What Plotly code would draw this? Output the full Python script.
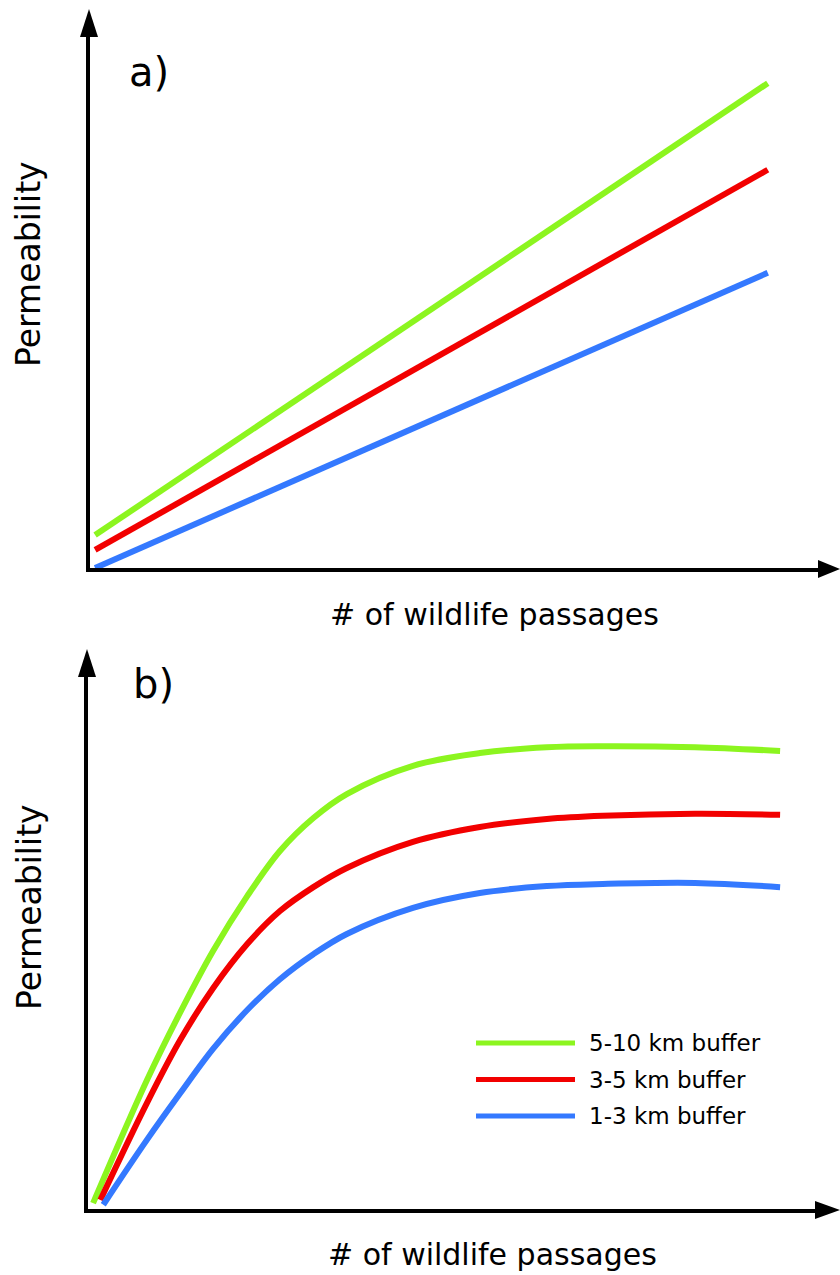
import plotly.graph_objects as go

# ---- data -------------------------------------------------------------
series_names = ["5-10 km buffer", "3-5 km buffer", "1-3 km buffer"]
series_colors = ["#8CF51F", "#F20000", "#3479FF"]

# panel a) linear response (x = # of passages, y = permeability, arbitrary 0-100 units)
lin_x = [0.7, 93.1]
lin_green = [6.2, 91.3]
lin_red = [3.4, 75.0]
lin_blue = [0.0, 55.6]

# panel b) saturating response
sat_x_green = [0.7, 8.1, 12.7, 17.2, 21.9, 26.4, 31.0, 35.6, 44.7, 53.9, 63.1, 70.8, 83.5, 95.2]
sat_green = [1.1, 24.2, 37.0, 48.5, 58.8, 67.3, 73.5, 78.0, 83.3, 85.7, 86.8, 87.0, 86.8, 86.1]
sat_x_red = [1.7, 8.1, 12.7, 17.2, 21.9, 26.4, 31.0, 35.6, 44.7, 53.9, 63.1, 70.8, 83.5, 95.2]
sat_red = [1.7, 19.9, 31.8, 41.5, 49.8, 56.0, 60.5, 64.1, 69.0, 71.8, 73.3, 73.9, 74.3, 74.1]
sat_x_blue = [2.1, 8.1, 12.7, 17.2, 21.9, 26.4, 31.0, 35.6, 44.7, 53.9, 63.1, 70.8, 83.5, 95.2]
sat_blue = [0.8, 13.0, 21.8, 30.1, 37.4, 43.2, 47.9, 51.7, 56.6, 59.4, 60.7, 61.1, 61.3, 60.5]

x_title = "# of wildlife passages"
y_title = "Permeability"
panel_labels = ["a)", "b)"]

# ---- layout helpers ---------------------------------------------------
W, H = 840, 1275
FONT = "DejaVu Sans"


def fx(px):
    return px / W


def fy(py):
    return 1 - py / H


fig = go.Figure()

line_w = 6
lin_series = [lin_green, lin_red, lin_blue]
for name, color, ys in zip(series_names, series_colors, lin_series):
    fig.add_trace(go.Scatter(x=lin_x, y=ys, mode="lines", name=name,
                             line=dict(color=color, width=line_w),
                             xaxis="x", yaxis="y", showlegend=False))

sat_series = [(sat_x_green, sat_green), (sat_x_red, sat_red), (sat_x_blue, sat_blue)]
for name, color, (xs, ys) in zip(series_names, series_colors, sat_series):
    fig.add_trace(go.Scatter(x=xs, y=ys, mode="lines", name=name,
                             line=dict(color=color, width=line_w, shape="spline", smoothing=1.0),
                             xaxis="x2", yaxis="y2", showlegend=False))

axis_common = dict(range=[0, 100], showline=True, linecolor="black", linewidth=4,
                   showgrid=False, zeroline=False, showticklabels=False, ticks="",
                   fixedrange=True)

# axis frames (pixel geometry of each panel)
A = dict(x0=90, x1=818, y0=568, y1=37)
B = dict(x0=88, x1=815, y0=1209, y1=677)

fig.update_layout(
    width=W, height=H,
    margin=dict(l=0, r=0, t=0, b=0),
    paper_bgcolor="white", plot_bgcolor="white",
    showlegend=False,
    xaxis=dict(domain=[fx(A["x0"]), fx(A["x1"])], anchor="y", **axis_common),
    yaxis=dict(domain=[fy(A["y0"]), fy(A["y1"])], anchor="x", **axis_common),
    xaxis2=dict(domain=[fx(B["x0"]), fx(B["x1"])], anchor="y2", **axis_common),
    yaxis2=dict(domain=[fy(B["y0"]), fy(B["y1"])], anchor="x2", **axis_common),
)

shapes = []
annotations = []


def tri(points):
    p = [f"{fx(x):.5f},{fy(y):.5f}" for x, y in points]
    return "M " + " L ".join(p) + " Z"


# arrowheads on both axes of each panel
for P in (A, B):
    xa_y = P["y0"] + 1
    ya_x = P["x0"] - 1
    shapes.append(dict(type="path", xref="paper", yref="paper",
                       path=tri([(P["x1"], xa_y - 9), (840, xa_y), (P["x1"], xa_y + 9)]),
                       fillcolor="black", line=dict(width=0)))
    shapes.append(dict(type="path", xref="paper", yref="paper",
                       path=tri([(ya_x - 9, P["y1"]), (ya_x, P["y1"] - 28), (ya_x + 9, P["y1"])]),
                       fillcolor="black", line=dict(width=0)))

# panel letters
for lab, (px, py) in zip(panel_labels, [(127, 72), (131, 684)]):
    annotations.append(dict(text=lab, x=fx(px), y=fy(py), xref="paper", yref="paper",
                            xanchor="left", yanchor="middle", showarrow=False,
                            font=dict(family=FONT, size=40, color="black")))

# axis titles
for cx, cy in [(494, 614), (492, 1254)]:
    annotations.append(dict(text=x_title, x=fx(cx), y=fy(cy), xref="paper", yref="paper",
                            xanchor="center", yanchor="middle", showarrow=False,
                            font=dict(family=FONT, size=30, color="black")))
for cx, cy in [(29, 264), (29, 907)]:
    annotations.append(dict(text=y_title, x=fx(cx), y=fy(cy), xref="paper", yref="paper",
                            xanchor="center", yanchor="middle", showarrow=False, textangle=-90,
                            font=dict(family=FONT, size=33, color="black")))

# key for panel b
for i, (name, color) in enumerate(zip(series_names, series_colors)):
    ry = 1043 + i * 36.5
    shapes.append(dict(type="line", xref="paper", yref="paper",
                       x0=fx(476), x1=fx(575), y0=fy(ry), y1=fy(ry),
                       line=dict(color=color, width=5)))
    annotations.append(dict(text=name, x=fx(587), y=fy(ry), xref="paper", yref="paper",
                            xanchor="left", yanchor="middle", showarrow=False,
                            font=dict(family=FONT, size=23, color="black")))

fig.update_layout(shapes=shapes, annotations=annotations)

fig.write_html("out.html", config=dict(displayModeBar=False))
